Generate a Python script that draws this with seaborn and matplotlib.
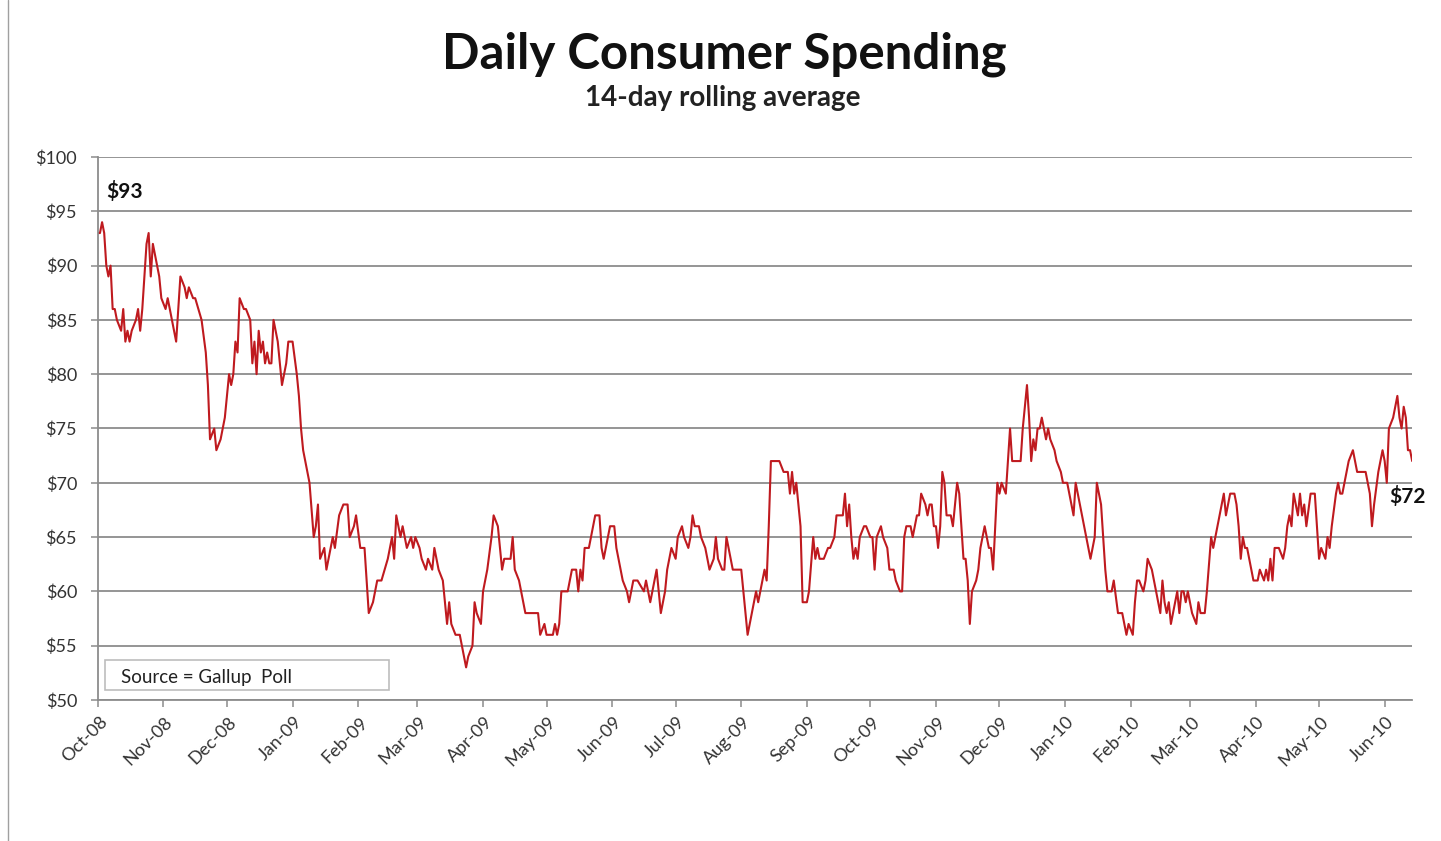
import pandas as pd
import matplotlib
matplotlib.use("Agg")
import matplotlib.pyplot as plt
import matplotlib.dates as mdates
from matplotlib.patches import Rectangle
from matplotlib.lines import Line2D
from matplotlib.transforms import ScaledTranslation
import seaborn as sns

# Gallup daily self-reported spending, 14-day rolling average (US dollars)
start_date = "2008-10-01"
day = [
    0, 1, 2, 3, 4, 5, 6, 7, 8, 9, 11, 12, 13, 14, 15, 16, 18, 19, 20, 21, 22, 23, 24, 25, 26, 27, 29, 30,
    32, 33, 35, 37, 39, 41, 42, 43, 45, 46, 49, 51, 52, 53, 55, 56, 58, 60, 62, 63, 64, 65, 66, 67, 69, 70,
    72, 73, 74, 75, 76, 77, 78, 79, 80, 81, 82, 83, 85, 86, 87, 89, 90, 92, 94, 95, 96, 97, 99, 100, 102,
    103, 104, 105, 107, 108, 111, 112, 114, 116, 118, 119, 121, 122, 124, 126, 127, 128, 130, 132, 134, 137,
    139, 140, 141, 143, 144, 146, 148, 149, 150, 152, 153, 155, 156, 158, 159, 161, 163, 164, 165, 166, 167,
    169, 171, 172, 174, 175, 177, 178, 179, 181, 182, 184, 186, 187, 189, 191, 192, 195, 196, 197, 199, 200,
    202, 206, 208, 209, 211, 212, 215, 216, 217, 218, 219, 222, 224, 226, 227, 228, 229, 230, 232, 233, 235,
    237, 238, 239, 241, 242, 244, 245, 247, 248, 250, 251, 253, 255, 258, 259, 261, 263, 264, 266, 268, 269,
    271, 273, 274, 276, 277, 279, 280, 281, 282, 284, 285, 287, 289, 291, 292, 293, 295, 296, 297, 299, 300,
    302, 304, 305, 306, 307, 309, 311, 312, 314, 315, 316, 317, 318, 321, 322, 324, 326, 327, 328, 329, 330,
    331, 332, 333, 335, 336, 338, 339, 340, 341, 343, 345, 346, 348, 349, 352, 353, 354, 355, 356, 357, 358,
    359, 360, 362, 363, 365, 366, 367, 368, 370, 371, 373, 374, 376, 377, 379, 380, 381, 382, 384, 385, 387,
    388, 389, 391, 392, 393, 394, 395, 396, 397, 398, 399, 400, 401, 403, 404, 405, 406, 407, 408, 409, 410,
    411, 412, 413, 415, 416, 417, 419, 420, 421, 422, 423, 424, 425, 426, 427, 429, 430, 431, 432, 434, 436,
    437, 438, 439, 440, 441, 442, 443, 444, 445, 446, 447, 448, 449, 450, 452, 453, 455, 456, 458, 459, 461,
    462, 463, 464, 466, 467, 469, 470, 471, 472, 474, 475, 476, 477, 479, 480, 482, 484, 485, 486, 487, 489,
    490, 491, 492, 494, 495, 496, 498, 500, 501, 502, 503, 504, 505, 506, 507, 509, 510, 511, 512, 513, 514,
    515, 516, 517, 519, 520, 521, 522, 523, 524, 526, 527, 528, 529, 530, 532, 533, 534, 535, 537, 538, 539,
    540, 541, 542, 543, 545, 546, 548, 549, 551, 552, 553, 554, 555, 556, 558, 560, 561, 562, 563, 564, 565,
    567, 568, 569, 570, 571, 573, 575, 576, 577, 578, 580, 581, 582, 583, 585, 586, 587, 588, 589, 591, 593,
    595, 597, 599, 601, 602, 603, 605, 606, 607, 608, 609, 610, 612, 613, 614, 615, 616, 617, 618, 619, 620,
    621,
]
spending = [
    93, 93, 94, 93, 90, 89, 90, 86, 86, 85, 84, 86, 83, 84, 83, 84, 85, 86, 84, 86, 89, 92, 93, 89, 92, 91, 89, 87,
    86, 87, 85, 83, 89, 88, 87, 88, 87, 87, 85, 82, 79, 74, 75, 73, 74, 76, 80, 79, 80, 83, 82, 87, 86, 86,
    85, 81, 83, 80, 84, 82, 83, 81, 82, 81, 81, 85, 83, 81, 79, 81, 83, 83, 80, 78, 75, 73, 71, 70, 65,
    66, 68, 63, 64, 62, 65, 64, 67, 68, 68, 65, 66, 67, 64, 64, 61, 58, 59, 61, 61, 63,
    65, 63, 67, 65, 66, 64, 65, 64, 65, 64, 63, 62, 63, 62, 64, 62, 61, 59, 57, 59, 57,
    56, 56, 55, 53, 54, 55, 59, 58, 57, 60, 62, 65, 67, 66, 62, 63, 63, 65, 62, 61, 60,
    58, 58, 58, 56, 57, 56, 56, 57, 56, 57, 60, 60, 62, 62, 60, 62, 61, 64, 64, 65, 67,
    67, 64, 63, 65, 66, 66, 64, 62, 61, 60, 59, 61, 61, 60, 61, 59, 61, 62, 58, 60, 62,
    64, 63, 65, 66, 65, 64, 65, 67, 66, 66, 65, 64, 62, 63, 65, 63, 62, 62, 65, 63, 62,
    62, 62, 60, 58, 56, 58, 60, 59, 61, 62, 61, 66, 72, 72, 72, 71, 71, 69, 71, 69, 70,
    68, 66, 59, 59, 60, 65, 63, 64, 63, 63, 64, 64, 65, 67, 67, 69, 66, 68, 65, 63, 64,
    63, 65, 66, 66, 65, 65, 62, 65, 66, 65, 64, 62, 62, 61, 60, 60, 65, 66, 66, 65, 67,
    67, 69, 68, 67, 68, 68, 66, 66, 64, 66, 71, 70, 67, 67, 66, 68, 70, 69, 66, 63, 63,
    61, 57, 60, 61, 62, 64, 66, 65, 64, 64, 62, 66, 70, 69, 70, 69, 72, 75, 72, 72, 72,
    75, 77, 79, 76, 72, 74, 73, 75, 75, 76, 75, 74, 75, 74, 73, 72, 71, 70, 70, 69, 67,
    70, 69, 68, 66, 65, 63, 64, 65, 70, 68, 65, 62, 60, 60, 61, 58, 58, 57, 56, 57, 56,
    59, 61, 61, 60, 61, 63, 62, 60, 59, 58, 61, 59, 58, 59, 57, 59, 60, 58, 60, 60, 59,
    60, 59, 58, 57, 59, 58, 58, 58, 60, 65, 64, 65, 66, 67, 69, 67, 68, 69, 69, 68, 66,
    63, 65, 64, 64, 62, 61, 61, 62, 61, 62, 61, 63, 61, 64, 64, 63, 64, 66, 67, 66, 69,
    67, 69, 67, 68, 66, 69, 69, 66, 63, 64, 63, 65, 64, 66, 69, 70, 69, 69, 70, 72, 73,
    71, 71, 71, 69, 66, 68, 71, 72, 73, 72, 70, 75, 76, 77, 78, 76, 75, 77, 76, 73, 73,
    72,
]
month_ticks = pd.date_range("2008-10-01", "2010-06-01", freq="MS")
y_ticks = list(range(50, 101, 5))
title = "Daily Consumer Spending"
subtitle = "14-day rolling average"
source_note = "Source = Gallup  Poll"

df = pd.DataFrame({
    "date": pd.to_datetime(start_date) + pd.to_timedelta(day, unit="D"),
    "spending": spending,
})

sns.set_theme(style="white")
plt.rcParams["font.family"] = ["Lato", "DejaVu Sans"]

grid_grey = "#8c8c8c"
text_grey = "#333333"
line_red = "#bf1a1f"

fig = plt.figure(figsize=(14.41, 8.41), dpi=100)
ax = fig.add_axes([0.0679, 0.1677, 0.9121, 0.6456])

sns.lineplot(data=df, x="date", y="spending", ax=ax, color=line_red, linewidth=1.5)

ax.set_xlim(df["date"].iloc[0], df["date"].iloc[-1])
ax.set_ylim(50, 100)
ax.set_yticks(y_ticks)
ax.set_yticklabels([f"${v}" for v in y_ticks])
ax.set_xticks(month_ticks)
ax.xaxis.set_major_formatter(mdates.DateFormatter("%b-%y"))
ax.set_xlabel("")
ax.set_ylabel("")

ax.grid(axis="y", color=grid_grey, linewidth=1.3)
ax.grid(axis="x", visible=False)
ax.set_axisbelow(True)
for side in ("top", "right"):
    ax.spines[side].set_visible(False)
for side in ("left", "bottom"):
    ax.spines[side].set_color(grid_grey)
    ax.spines[side].set_linewidth(1.3)

ax.tick_params(axis="both", which="major", bottom=True, left=True, direction="out",
               length=5, width=1.1, color=grid_grey, labelcolor=text_grey)
ax.tick_params(axis="y", labelsize=13, pad=10)
ax.tick_params(axis="x", labelsize=13, pad=5)

offset = ScaledTranslation(0.01, 0.0, fig.dpi_scale_trans)
for lbl in ax.get_xticklabels():
    lbl.set_rotation(45)
    lbl.set_ha("right")
    lbl.set_va("top")
    lbl.set_rotation_mode("anchor")
    lbl.set_transform(lbl.get_transform() + offset)

# end-point value labels
first_date, last_date = df["date"].iloc[0], df["date"].iloc[-1]
ax.text(first_date + pd.Timedelta(days=4), 96.8, f"${spending[0]}", fontsize=15,
        fontweight="bold", color="#111111", ha="left", va="center")
ax.text(last_date - pd.Timedelta(days=2), 68.7, f"${spending[-1]}", fontsize=15,
        fontweight="bold", color="#111111", ha="center", va="center", clip_on=False)

# source note box
ax.add_patch(Rectangle((0.0055, 0.018), 0.216, 0.0555, transform=ax.transAxes,
                       facecolor="white", edgecolor="#bdbdbd", linewidth=1.2, zorder=5))
ax.text(0.0177, 0.0405, source_note, transform=ax.transAxes, fontsize=13.5,
        color="#222222", ha="left", va="center", zorder=6)

fig.text(0.5025, 0.935, title, fontsize=35.5, fontweight="bold", color="#111111",
         ha="center", va="center")
fig.text(0.5015, 0.884, subtitle, fontsize=20, fontweight="bold", color="#222222",
         ha="center", va="center")

fig.add_artist(Line2D([8 / 1441, 8 / 1441], [0.0, 1.0], transform=fig.transFigure,
                      color="#a0a0a0", linewidth=1.0))

fig.savefig("out.png", dpi=100, facecolor="white")
